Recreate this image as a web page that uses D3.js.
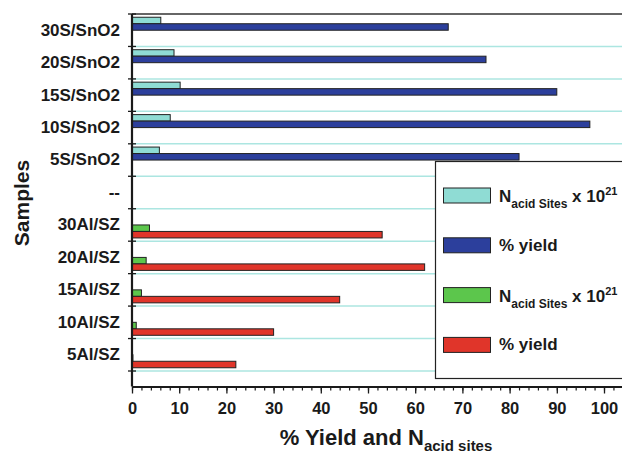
<!DOCTYPE html>
<meta charset="utf-8">
<title>Yield and acid sites</title>
<style>
  body { margin: 0; background: #fff; }
  text { font-family: "Liberation Sans", Arial, sans-serif; font-weight: bold; fill: #1a1a1a; }
  .axis path, .axis line { stroke: #1a1a1a; }
</style>
<body>
<svg width="622" height="455"></svg>
<script src="https://d3js.org/d3.v7.min.js"></script>
<script>
  // samples, top to bottom
  var samples = ["30S/SnO2", "20S/SnO2", "15S/SnO2", "10S/SnO2", "5S/SnO2", "--",
                 "30Al/SZ", "20Al/SZ", "15Al/SZ", "10Al/SZ", "5Al/SZ"];
  // N acid sites x 10^21 and % yield, SnO2 series
  var snAcid  = [6.1, 8.9, 10.2, 8.1, 5.8, null, null, null, null, null, null];
  var snYield = [67, 75, 90, 97, 82, null, null, null, null, null, null];
  // same for the Al/SZ series
  var alAcid  = [null, null, null, null, null, null, 3.7, 3.0, 2.0, 0.9, 0.2];
  var alYield = [null, null, null, null, null, null, 53, 62, 44, 30, 22];
  var majorTicks = [0, 10, 20, 30, 40, 50, 60, 70, 80, 90, 100];

  var series = [
    { key: "snAcid", values: snAcid, color: "#8fdcd4" },
    { key: "snYield", values: snYield, color: "#2c3f9c" },
    { key: "alAcid", values: alAcid, color: "#5cc64c" },
    { key: "alYield", values: alYield, color: "#e0352a" }
  ];

  var svg = d3.select("svg");
  var plotTop = 14, axisY = 386.5, left = 132;

  var x = d3.scaleLinear().domain([0, 104]).range([left, left + 104 * 4.72]);
  var y = d3.scaleBand().domain(samples).range([plotTop, 371]);
  var sub = d3.scaleBand().domain(series.map(d => d.key))
    .range([0, y.bandwidth()]).paddingOuter(0.5);

  // grid lines at band boundaries
  var bounds = samples.slice(1).map(d => y(d)).concat([y(samples[samples.length - 1]) + y.bandwidth()]);
  svg.append("g").selectAll("line")
    .data(bounds)
    .enter().append("line")
    .attr("x1", left).attr("x2", 622)
    .attr("y1", d => d).attr("y2", d => d)
    .attr("stroke", "#ace6e1")
    .attr("stroke-width", 1.5);

  // top border
  svg.append("line")
    .attr("x1", left).attr("x2", 622).attr("y1", plotTop).attr("y2", plotTop)
    .attr("stroke", "#333").attr("stroke-width", 1.5);

  // bars
  series.forEach(function (s) {
    svg.append("g").selectAll("rect")
      .data(samples.map((d, i) => ({ sample: d, v: s.values[i] })).filter(d => d.v != null))
      .enter().append("rect")
      .attr("x", x(0))
      .attr("y", d => y(d.sample) + sub(s.key))
      .attr("width", d => x(d.v) - x(0))
      .attr("height", sub.bandwidth())
      .attr("fill", s.color)
      .attr("stroke", "#222")
      .attr("stroke-width", 1);
  });

  // legend
  var legend = svg.append("g");
  legend.append("rect")
    .attr("x", 435.5).attr("y", 161.5).attr("width", 200).attr("height", 217)
    .attr("fill", "#fff").attr("stroke", "#222").attr("stroke-width", 1.2);
  series.forEach(function (s, i) {
    var cy = 195.5 + i * 49.8;
    legend.append("rect")
      .attr("x", 443.5).attr("y", cy - 7.5).attr("width", 47).attr("height", 15)
      .attr("fill", s.color).attr("stroke", "#222").attr("stroke-width", 1);
    var t = legend.append("text").attr("x", 499).style("font-size", "17px");
    if (i % 2 == 0) {
      t.attr("y", cy + 6.5);
      t.append("tspan").text("N");
      t.append("tspan").attr("dy", 6).style("font-size", "12px").text("acid Sites");
      t.append("tspan").attr("dy", -6).text(" x 10");
      t.append("tspan").attr("dy", -7).style("font-size", "11px").text("21");
    } else {
      t.attr("y", cy + 5.5).text("% yield");
    }
  });

  // x axis
  svg.append("g")
    .attr("class", "axis")
    .attr("transform", "translate(0," + axisY + ")")
    .call(d3.axisBottom(x).tickValues(d3.range(0, 105, 2)).tickSize(4).tickFormat(""))
    .call(g => g.select(".domain").remove())
    .selectAll("line").attr("stroke-width", 1.2);
  var xAxis = svg.append("g")
    .attr("class", "axis")
    .attr("transform", "translate(0," + axisY + ")")
    .call(d3.axisBottom(x).tickValues(majorTicks).tickSize(7).tickPadding(9).tickSizeOuter(0));
  xAxis.select(".domain").attr("stroke-width", 2.2);
  xAxis.selectAll("line").attr("stroke-width", 1.3);
  xAxis.selectAll("text").style("font-size", "16.5px").style("font-family", "Liberation Sans, Arial, sans-serif").attr("fill", "#1a1a1a");

  // y axis
  var yAxis = svg.append("g")
    .attr("class", "axis")
    .attr("transform", "translate(" + left + ",0)")
    .call(d3.axisLeft(y).tickSize(0).tickPadding(12));
  yAxis.select(".domain").attr("d", "M0," + plotTop + "V" + axisY).attr("stroke-width", 2.2);
  yAxis.selectAll("text").style("font-size", "17px").style("font-family", "Liberation Sans, Arial, sans-serif").attr("fill", "#1a1a1a");
  svg.append("g").selectAll("line")
    .data([plotTop].concat(bounds))
    .enter().append("line")
    .attr("x1", left - 4).attr("x2", left + 4)
    .attr("y1", d => d).attr("y2", d => d)
    .attr("stroke", "#1a1a1a").attr("stroke-width", 1.3);

  // axis titles
  var xt = svg.append("text")
    .attr("x", 386).attr("y", 445)
    .attr("text-anchor", "middle")
    .style("font-size", "22px");
  xt.append("tspan").text("% Yield and N");
  xt.append("tspan").attr("dy", 6).style("font-size", "15px").text("acid sites");

  svg.append("text")
    .attr("transform", "translate(29,203) rotate(-90)")
    .attr("text-anchor", "middle")
    .style("font-size", "21px")
    .text("Samples");
</script>
</body>
